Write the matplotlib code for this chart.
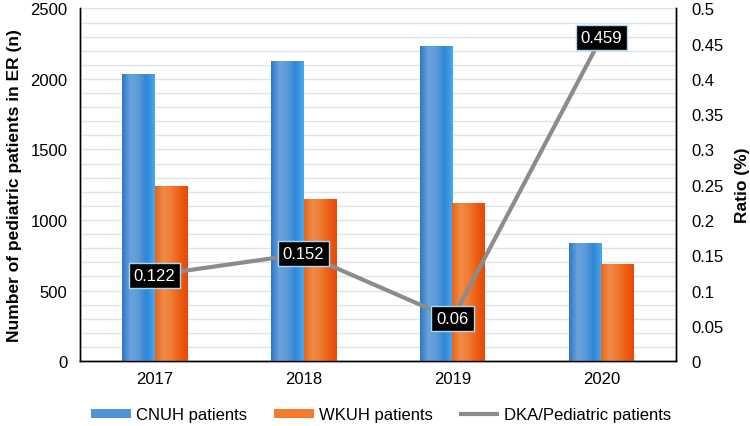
import numpy as np
import matplotlib
matplotlib.use('Agg')
import matplotlib.pyplot as plt
from matplotlib.ticker import MultipleLocator
from matplotlib.colors import LinearSegmentedColormap

plt.rcParams['font.family'] = ['Liberation Sans', 'DejaVu Sans']

years = ['2017', '2018', '2019', '2020']
cnuh = [2033, 2128, 2232, 838]
wkuh = [1240, 1150, 1120, 686]
ratio = [0.122, 0.152, 0.06, 0.459]

fig = plt.figure(figsize=(7.5, 4.27), dpi=100)
ax = fig.add_axes([0.1067, 0.152, 0.7946, 0.826])
ax2 = ax.twinx()

x = np.arange(len(years))
w = 0.215
b1 = ax.bar(x - w / 2, cnuh, w, color='#4f93d8', linewidth=0, zorder=3)
b2 = ax.bar(x + w / 2, wkuh, w, color='#f47a2c', linewidth=0, zorder=3)

# soft horizontal shading on bars
blue_cm = LinearSegmentedColormap.from_list('b', ['#2f78c8', '#6aa3da', '#5c9ad8', '#2f86d6', '#49a8f0'])
orange_cm = LinearSegmentedColormap.from_list('o', ['#e8661c', '#ef8a48', '#f07c34', '#ec5e12', '#e8480a'])
grad = np.linspace(0, 1, 64).reshape(1, -1)
for bars, cm in ((b1, blue_cm), (b2, orange_cm)):
    for p in bars:
        x0, y0 = p.get_x(), p.get_y()
        im = ax.imshow(grad, cmap=cm, aspect='auto', zorder=3.5,
                       extent=(x0, x0 + p.get_width(), y0, y0 + p.get_height()))
        im.set_clip_path(p)

ax.set_xlim(-0.5, len(years) - 0.5)
ax.set_ylim(0, 2500)
ax.yaxis.set_major_locator(MultipleLocator(500))
ax.yaxis.set_minor_locator(MultipleLocator(100))
ax.grid(True, which='both', axis='y', color='#dde4ec', linewidth=1, zorder=0)
ax.set_xticks(x)
ax.set_xticklabels(years)
ax.tick_params(axis='both', labelsize=12, length=0)
ax.tick_params(axis='y', pad=9)
ax.tick_params(axis='x', pad=7)
ax.tick_params(axis='y', which='minor', length=0)
ax.set_ylabel('Number of pediatric patients in ER (n)', fontsize=12.5, fontweight='bold', labelpad=6)

ln, = ax2.plot(x, ratio, color='#8c8c8c', linewidth=3, zorder=4, solid_capstyle='butt')
ax2.set_ylim(0, 0.5)
rticks = [0, 0.05, 0.1, 0.15, 0.2, 0.25, 0.3, 0.35, 0.4, 0.45, 0.5]
ax2.set_yticks(rticks)
ax2.set_yticklabels([f'{t:g}' for t in rticks])
ax2.tick_params(axis='y', labelsize=12, length=0, pad=11)
ax2.set_ylabel('Ratio (%)', fontsize=12.5, fontweight='bold', labelpad=8)

for xi, r in zip(x, ratio):
    ax2.text(xi, r, f'{r:g}', color='white', fontsize=12, ha='center', va='center', zorder=6,
             bbox=dict(boxstyle='square,pad=0.3', facecolor='black', edgecolor='#a8d8f8',
                       linewidth=1.0))

for a in (ax, ax2):
    a.spines['top'].set_visible(False)
    for s in ('left', 'right', 'bottom'):
        a.spines[s].set_color('black')
        a.spines[s].set_linewidth(1)

fig.legend([b1, b2, ln], ['CNUH patients', 'WKUH patients', 'DKA/Pediatric patients'],
           loc='center', bbox_to_anchor=(0.508, 0.026), ncol=3, frameon=False, fontsize=12,
           handlelength=2.4, handleheight=0.5, columnspacing=1.6, handletextpad=0.3)

fig.savefig('out.png', dpi=100)
